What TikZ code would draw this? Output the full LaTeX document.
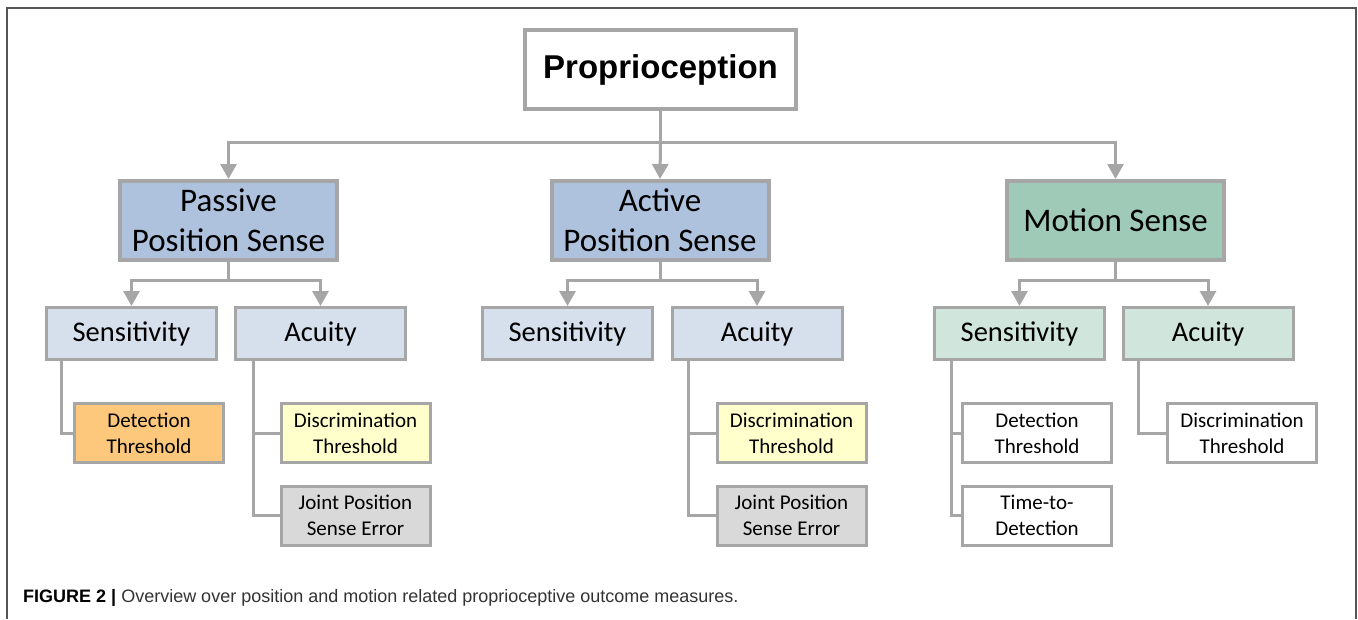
\documentclass[tikz,border=0pt]{standalone}
\usepackage{fontspec}
\setmainfont{Carlito}
\newfontfamily\arialfont{Liberation Sans}
\usetikzlibrary{arrows.meta}
\definecolor{bordergray}{HTML}{A6A6A6}
\definecolor{framegray}{HTML}{555555}
\definecolor{posblue}{HTML}{AEC2DE}
\definecolor{posblue2}{HTML}{D6DFEC}
\definecolor{motgreen}{HTML}{A0CAB8}
\definecolor{motgreen2}{HTML}{D0E5DC}
\definecolor{detorange}{HTML}{FDC87B}
\definecolor{discyellow}{HTML}{FFFFCC}
\definecolor{jpsgray}{HTML}{D9D9D9}
\tikzset{
  topbox/.style={draw=bordergray, line width=4pt, fill=white, minimum width=271pt, minimum height=79pt, inner sep=0pt,
    font=\arialfont\bfseries\fontsize{33}{40}\selectfont},
  lvlone/.style={draw=bordergray, line width=4pt, minimum width=217pt, minimum height=79pt, inner sep=0pt, align=center,
    font=\fontsize{33}{40}\selectfont},
  lvltwo/.style={draw=bordergray, line width=3pt, minimum width=170pt, minimum height=52pt, inner sep=0pt, align=center,
    font=\fontsize{28.5}{34}\selectfont},
  lvlthree/.style={draw=bordergray, line width=3pt, fill=white, minimum width=149pt, minimum height=59pt, inner sep=0pt, align=center,
    font=\fontsize{21}{26}\selectfont},
  conn/.style={draw=bordergray, line width=3pt},
  arr/.style={conn, -{Triangle[width=16pt,length=15pt]}},
}
\begin{document}
\begin{tikzpicture}[x=1pt,y=-1pt]
\useasboundingbox (0,0) rectangle (1358,619);
% frame
\draw[framegray, line width=1.5pt] (7,619) -- (7,8) -- (1356,8) -- (1356,619);

% nodes
\node[topbox] (prop) at (660.5,69.5) {Proprioception};

\node[lvlone, fill=posblue] (pps) at (228.5,220.5) {Passive\\Position Sense};
\node[lvlone, fill=posblue] (aps) at (660,220.5) {Active\\Position Sense};
\node[lvlone, fill=motgreen] (ms) at (1115.5,220.5) {Motion Sense};

\node[lvltwo, fill=posblue2] (pS) at (131.5,333.5) {Sensitivity};
\node[lvltwo, fill=posblue2] (pA) at (320.5,333.5) {Acuity};
\node[lvltwo, fill=posblue2] (aS) at (567.5,333.5) {Sensitivity};
\node[lvltwo, fill=posblue2] (aA) at (757,333.5) {Acuity};
\node[lvltwo, fill=motgreen2] (mS) at (1019.5,333.5) {Sensitivity};
\node[lvltwo, fill=motgreen2] (mA) at (1208,333.5) {Acuity};

\node[lvlthree, fill=detorange] (pDT) at (149,433) {Detection\\Threshold};
\node[lvlthree, fill=discyellow] (pDis) at (355.5,433) {Discrimination\\Threshold};
\node[lvlthree, fill=jpsgray] (pJ) at (355.5,515.5) {Joint Position\\Sense Error};
\node[lvlthree, fill=discyellow] (aDis) at (791.5,433) {Discrimination\\Threshold};
\node[lvlthree, fill=jpsgray] (aJ) at (791.5,515.5) {Joint Position\\Sense Error};
\node[lvlthree] (mDT) at (1037,433) {Detection\\Threshold};
\node[lvlthree] (mTD) at (1037,515.5) {Time-to-\\Detection};
\node[lvlthree] (mDis) at (1242,433) {Discrimination\\Threshold};

% top level connectors
\coordinate (tj) at (660.5,142);
\draw[conn] (prop.south) -- (tj);
\draw[arr] (tj) -| (pps.north);
\draw[arr] (tj) -| (ms.north);
\draw[arr] (tj) -- (aps.north);

% second level connectors
\coordinate (pj) at (228.5,280);
\draw[conn] (pps.south) -- (pj);
\draw[arr] (pj) -| (pS.north);
\draw[arr] (pj) -| (pA.north);
\coordinate (aj) at (660,280);
\draw[conn] (aps.south) -- (aj);
\draw[arr] (aj) -| (aS.north);
\draw[arr] (aj) -| (aA.north);
\coordinate (mj) at (1115.5,280);
\draw[conn] (ms.south) -- (mj);
\draw[arr] (mj) -| (mS.north);
\draw[arr] (mj) -| (mA.north);

% third level connectors
\draw[conn] ([xshift=16pt]pS.south west) |- (pDT.west);
\draw[conn] ([xshift=19pt]pA.south west) |- (pDis.west);
\draw[conn] ([xshift=19pt]pA.south west) |- (pJ.west);
\draw[conn] ([xshift=18pt]aA.south west) |- (aDis.west);
\draw[conn] ([xshift=18pt]aA.south west) |- (aJ.west);
\draw[conn] ([xshift=18pt]mS.south west) |- (mDT.west);
\draw[conn] ([xshift=18pt]mS.south west) |- (mTD.west);
\draw[conn] ([xshift=17pt]mA.south west) |- (mDis.west);

% caption
\node[anchor=west, inner sep=0pt, font=\arialfont\fontsize{18}{22}\selectfont, text=black!80] (cap) at (23,598)
  {{\bfseries\color{black}FIGURE 2 |} Overview over position and motion related proprioceptive outcome measures.};
\end{tikzpicture}
\end{document}
